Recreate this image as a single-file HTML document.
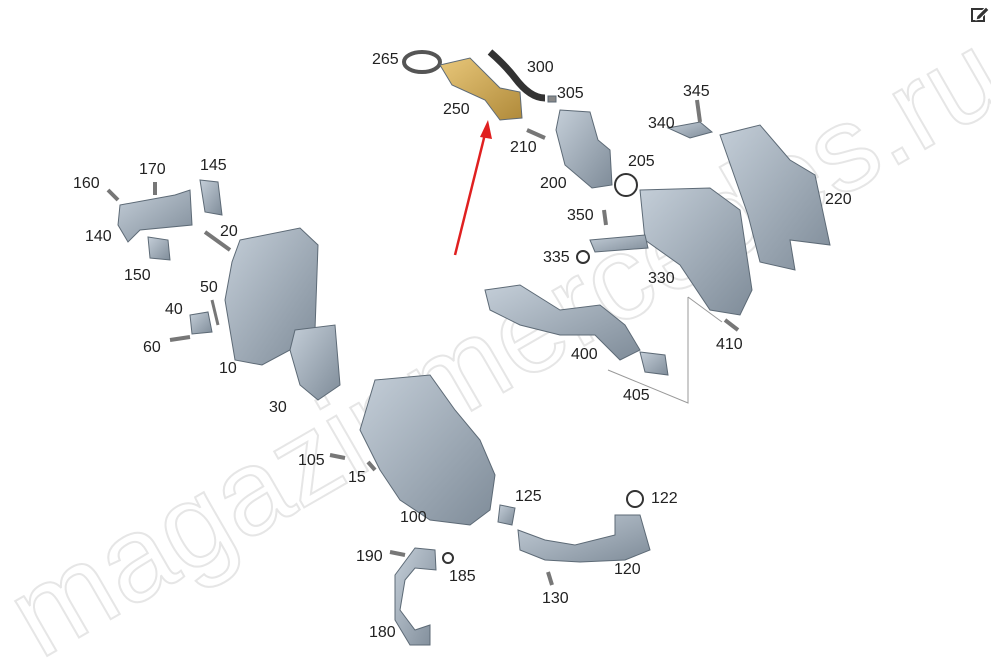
<!DOCTYPE html>
<html><head><meta charset="utf-8"><style>
html,body{margin:0;padding:0;background:#fff;}
body{width:991px;height:670px;position:relative;overflow:hidden;font-family:"Liberation Sans",sans-serif;}
.l{position:absolute;font-size:16px;color:#222;line-height:16px;}
svg{position:absolute;left:0;top:0;}
</style></head><body>
<svg width="991" height="670" viewBox="0 0 991 670">
<defs>
<linearGradient id="g" x1="0" y1="0" x2="1" y2="1"><stop offset="0" stop-color="#c4ced8"/><stop offset="1" stop-color="#7f8c99"/></linearGradient>
<linearGradient id="y" x1="0" y1="0" x2="1" y2="1"><stop offset="0" stop-color="#e8c77a"/><stop offset="1" stop-color="#b08a3a"/></linearGradient>
</defs>
<text x="40" y="660" transform="rotate(-30 40 660)" font-family="Liberation Sans" font-size="120" fill="none" stroke="#e6e6e6" stroke-width="2">magazinmercedes.ru</text>
<g stroke="#5d6a76" stroke-width="1">
<!-- top cluster -->
<ellipse cx="422" cy="62" rx="18" ry="10" fill="none" stroke="#555" stroke-width="4"/>
<path d="M440 65 L470 58 L500 88 L520 92 L522 118 L500 120 L485 100 L452 85 Z" fill="url(#y)"/>
<path d="M490 52 Q505 65 515 78 Q530 98 545 98" fill="none" stroke="#333" stroke-width="7"/>
<rect x="548" y="96" width="8" height="6" fill="#888"/>
<path d="M560 110 L590 112 L598 140 L610 150 L612 185 L592 188 L565 165 L556 130 Z" fill="url(#g)"/>
<circle cx="626" cy="185" r="11" fill="none" stroke="#333" stroke-width="2"/>
<path d="M527 130 L545 138" stroke="#777" stroke-width="4"/>
<path d="M668 128 L700 122 L712 132 L690 138 Z" fill="url(#g)"/>
<path d="M697 100 L700 122" stroke="#777" stroke-width="4"/>
<path d="M720 135 L760 125 L790 160 L815 175 L830 245 L790 240 L795 270 L760 262 L748 215 Z" fill="url(#g)"/>
<path d="M640 190 L710 188 L740 210 L752 290 L740 315 L710 310 L680 265 L645 240 Z" fill="url(#g)"/>
<path d="M590 240 L645 235 L648 248 L595 252 Z" fill="url(#g)"/>
<circle cx="583" cy="257" r="6" fill="none" stroke="#333" stroke-width="2"/>
<path d="M604 210 L606 225" stroke="#777" stroke-width="4"/>
<path d="M485 290 L520 285 L560 310 L600 305 L625 325 L640 350 L620 360 L595 335 L560 335 L520 325 L490 310 Z" fill="url(#g)"/>
<path d="M640 352 L665 355 L668 375 L645 372 Z" fill="url(#g)"/>
<path d="M725 320 L738 330" stroke="#777" stroke-width="4"/>
<!-- left cluster -->
<path d="M108 190 L118 200" stroke="#777" stroke-width="4"/>
<path d="M155 182 L155 195" stroke="#777" stroke-width="4"/>
<path d="M120 205 L175 195 L190 190 L192 225 L140 230 L128 242 L118 225 Z" fill="url(#g)"/>
<path d="M200 180 L218 182 L222 215 L205 212 Z" fill="url(#g)"/>
<path d="M148 237 L168 240 L170 260 L150 258 Z" fill="url(#g)"/>
<path d="M205 232 L230 250" stroke="#777" stroke-width="4"/>
<path d="M240 240 L300 228 L318 245 L315 330 L290 350 L262 365 L235 360 L225 300 L232 262 Z" fill="url(#g)"/>
<path d="M190 315 L208 312 L212 332 L192 334 Z" fill="url(#g)"/>
<path d="M170 340 L190 337" stroke="#777" stroke-width="4"/>
<path d="M212 300 L218 325" stroke="#777" stroke-width="3"/>
<path d="M295 330 L335 325 L340 385 L318 400 L300 385 L290 350 Z" fill="url(#g)"/>
<!-- center bottom -->
<path d="M375 380 L430 375 L455 410 L480 440 L495 475 L490 510 L470 525 L430 520 L400 500 L380 470 L360 430 Z" fill="url(#g)"/>
<path d="M330 455 L345 458" stroke="#777" stroke-width="4"/>
<path d="M368 462 L375 470" stroke="#777" stroke-width="4"/>
<path d="M500 505 L515 508 L512 525 L498 522 Z" fill="url(#g)"/>
<path d="M518 530 L545 540 L575 545 L615 535 L615 515 L640 515 L650 550 L625 560 L580 562 L545 560 L520 550 Z" fill="url(#g)"/>
<circle cx="635" cy="499" r="8" fill="none" stroke="#333" stroke-width="2"/>
<path d="M548 572 L552 585" stroke="#777" stroke-width="4"/>
<path d="M390 552 L405 555" stroke="#777" stroke-width="4"/>
<path d="M415 548 L435 550 L436 570 L415 568 L405 580 L400 610 L415 630 L430 625 L430 645 L410 645 L395 620 L395 575 Z" fill="url(#g)"/>
<circle cx="448" cy="558" r="5" fill="none" stroke="#333" stroke-width="2"/>
</g>
<g stroke="#999" stroke-width="1" fill="none">
<path d="M688 297 L688 403 L608 370"/>
<path d="M688 297 L722 322"/>
</g>
<line x1="455" y1="255" x2="485" y2="134" stroke="#e02020" stroke-width="2.5"/>
<polygon points="488,120 480,137 492,139" fill="#e02020"/>
<g transform="translate(971,5)">
<rect x="1" y="4" width="12" height="12" fill="none" stroke="#333" stroke-width="2"/>
<path d="M6 11 L15 2 L18 5 L9 14 L5 15 Z" fill="#333" stroke="#fff" stroke-width="1"/>
</g>
</svg>
<div class="l" style="left:372px;top:52px">265</div>
<div class="l" style="left:527px;top:60px">300</div>
<div class="l" style="left:557px;top:86px">305</div>
<div class="l" style="left:443px;top:102px">250</div>
<div class="l" style="left:510px;top:140px">210</div>
<div class="l" style="left:540px;top:176px">200</div>
<div class="l" style="left:628px;top:154px">205</div>
<div class="l" style="left:683px;top:84px">345</div>
<div class="l" style="left:648px;top:116px">340</div>
<div class="l" style="left:825px;top:192px">220</div>
<div class="l" style="left:567px;top:208px">350</div>
<div class="l" style="left:543px;top:250px">335</div>
<div class="l" style="left:648px;top:271px">330</div>
<div class="l" style="left:571px;top:347px">400</div>
<div class="l" style="left:623px;top:388px">405</div>
<div class="l" style="left:716px;top:337px">410</div>
<div class="l" style="left:73px;top:176px">160</div>
<div class="l" style="left:139px;top:162px">170</div>
<div class="l" style="left:200px;top:158px">145</div>
<div class="l" style="left:85px;top:229px">140</div>
<div class="l" style="left:124px;top:268px">150</div>
<div class="l" style="left:220px;top:224px">20</div>
<div class="l" style="left:200px;top:280px">50</div>
<div class="l" style="left:165px;top:302px">40</div>
<div class="l" style="left:143px;top:340px">60</div>
<div class="l" style="left:219px;top:361px">10</div>
<div class="l" style="left:269px;top:400px">30</div>
<div class="l" style="left:298px;top:453px">105</div>
<div class="l" style="left:348px;top:470px">15</div>
<div class="l" style="left:400px;top:510px">100</div>
<div class="l" style="left:515px;top:489px">125</div>
<div class="l" style="left:651px;top:491px">122</div>
<div class="l" style="left:614px;top:562px">120</div>
<div class="l" style="left:356px;top:549px">190</div>
<div class="l" style="left:449px;top:569px">185</div>
<div class="l" style="left:369px;top:625px">180</div>
<div class="l" style="left:542px;top:591px">130</div>
</body></html>
